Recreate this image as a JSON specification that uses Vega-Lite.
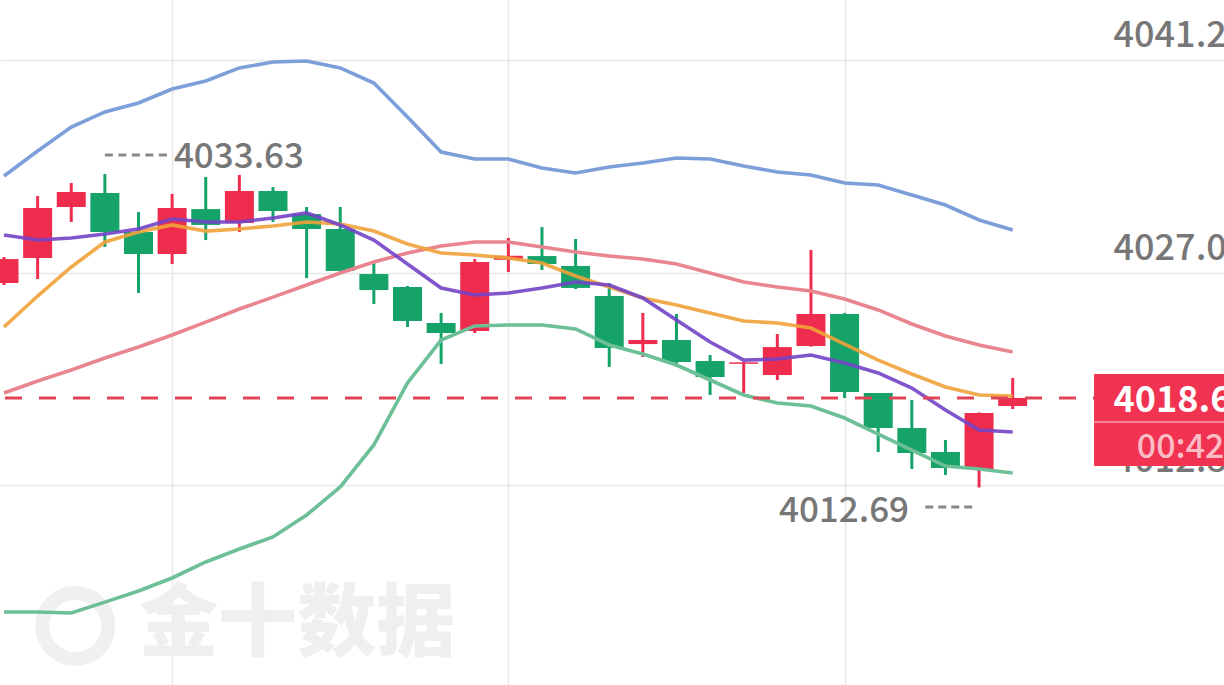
{
  "$schema": "https://vega.github.io/schema/vega-lite/v6.json",
  "width": 1224,
  "height": 685,
  "autosize": {"type": "none"},
  "padding": 0,
  "background": "#ffffff",
  "config": {
    "view": {"stroke": null},
    "axis": {"domain": false, "ticks": false, "labels": false, "grid": true, "gridColor": "#e8e8e8", "gridWidth": 1.5}
  },
  "datasets": {
    "k": [
      {"i": 0, "open": 4026.35, "high": 4028.09, "low": 4026.22, "close": 4027.95, "upper": 4033.50, "mid": 4019.00, "lower": 4004.37, "ma5": 4029.56, "ma10": 4023.41},
      {"i": 1, "open": 4028.02, "high": 4032.16, "low": 4026.62, "close": 4031.36, "upper": 4035.17, "mid": 4019.80, "lower": 4004.37, "ma5": 4029.22, "ma10": 4025.48},
      {"i": 2, "open": 4031.43, "high": 4033.03, "low": 4030.43, "close": 4032.43, "upper": 4036.77, "mid": 4020.54, "lower": 4004.30, "ma5": 4029.36, "ma10": 4027.42},
      {"i": 3, "open": 4032.36, "high": 4033.63, "low": 4028.76, "close": 4029.76, "upper": 4037.78, "mid": 4021.34, "lower": 4005.03, "ma5": 4029.62, "ma10": 4029.09},
      {"i": 4, "open": 4029.76, "high": 4031.09, "low": 4025.68, "close": 4028.29, "upper": 4038.38, "mid": 4022.07, "lower": 4005.77, "ma5": 4029.96, "ma10": 4029.76},
      {"i": 5, "open": 4028.29, "high": 4032.30, "low": 4027.62, "close": 4031.36, "upper": 4039.31, "mid": 4022.88, "lower": 4006.64, "ma5": 4030.63, "ma10": 4030.23},
      {"i": 6, "open": 4031.29, "high": 4033.43, "low": 4029.22, "close": 4030.23, "upper": 4039.85, "mid": 4023.74, "lower": 4007.71, "ma5": 4030.43, "ma10": 4029.82},
      {"i": 7, "open": 4030.36, "high": 4033.57, "low": 4029.76, "close": 4032.50, "upper": 4040.72, "mid": 4024.61, "lower": 4008.58, "ma5": 4030.43, "ma10": 4029.96},
      {"i": 8, "open": 4032.50, "high": 4032.76, "low": 4030.43, "close": 4031.16, "upper": 4041.12, "mid": 4025.41, "lower": 4009.38, "ma5": 4030.69, "ma10": 4030.16},
      {"i": 9, "open": 4030.96, "high": 4031.43, "low": 4026.68, "close": 4029.96, "upper": 4041.18, "mid": 4026.22, "lower": 4010.85, "ma5": 4031.03, "ma10": 4030.43},
      {"i": 10, "open": 4029.96, "high": 4031.43, "low": 4027.08, "close": 4027.15, "upper": 4040.72, "mid": 4027.02, "lower": 4012.72, "ma5": 4030.23, "ma10": 4030.29},
      {"i": 11, "open": 4026.95, "high": 4027.75, "low": 4024.95, "close": 4025.88, "upper": 4039.71, "mid": 4027.75, "lower": 4015.53, "ma5": 4029.22, "ma10": 4029.82},
      {"i": 12, "open": 4026.08, "high": 4026.15, "low": 4023.41, "close": 4023.81, "upper": 4037.44, "mid": 4028.36, "lower": 4019.67, "ma5": 4027.62, "ma10": 4028.96},
      {"i": 13, "open": 4023.68, "high": 4024.35, "low": 4020.94, "close": 4023.01, "upper": 4035.10, "mid": 4028.82, "lower": 4022.54, "ma5": 4026.02, "ma10": 4028.36},
      {"i": 14, "open": 4023.14, "high": 4027.95, "low": 4023.01, "close": 4027.75, "upper": 4034.64, "mid": 4029.09, "lower": 4023.48, "ma5": 4025.55, "ma10": 4028.22},
      {"i": 15, "open": 4027.90, "high": 4029.36, "low": 4027.08, "close": 4028.17, "upper": 4034.64, "mid": 4029.09, "lower": 4023.54, "ma5": 4025.68, "ma10": 4028.02},
      {"i": 16, "open": 4028.15, "high": 4030.09, "low": 4027.22, "close": 4027.62, "upper": 4034.03, "mid": 4028.76, "lower": 4023.54, "ma5": 4026.02, "ma10": 4027.69},
      {"i": 17, "open": 4027.49, "high": 4029.29, "low": 4025.95, "close": 4026.02, "upper": 4033.70, "mid": 4028.42, "lower": 4023.28, "ma5": 4026.42, "ma10": 4026.82},
      {"i": 18, "open": 4025.48, "high": 4026.35, "low": 4020.74, "close": 4022.01, "upper": 4034.10, "mid": 4028.15, "lower": 4022.21, "ma5": 4026.22, "ma10": 4026.08},
      {"i": 19, "open": 4022.27, "high": 4024.35, "low": 4021.41, "close": 4022.54, "upper": 4034.37, "mid": 4027.95, "lower": 4021.61, "ma5": 4025.35, "ma10": 4025.35},
      {"i": 20, "open": 4022.54, "high": 4024.28, "low": 4020.74, "close": 4021.07, "upper": 4034.70, "mid": 4027.62, "lower": 4020.87, "ma5": 4023.88, "ma10": 4024.88},
      {"i": 21, "open": 4021.14, "high": 4021.54, "low": 4018.87, "close": 4020.07, "upper": 4034.64, "mid": 4027.02, "lower": 4019.87, "ma5": 4022.41, "ma10": 4024.35},
      {"i": 22, "open": 4020.95, "high": 4021.07, "low": 4019.00, "close": 4021.05, "upper": 4034.17, "mid": 4026.42, "lower": 4018.87, "ma5": 4021.20, "ma10": 4023.81},
      {"i": 23, "open": 4020.20, "high": 4022.94, "low": 4019.87, "close": 4022.07, "upper": 4033.77, "mid": 4026.08, "lower": 4018.33, "ma5": 4021.27, "ma10": 4023.68},
      {"i": 24, "open": 4022.14, "high": 4028.56, "low": 4022.10, "close": 4024.28, "upper": 4033.57, "mid": 4025.82, "lower": 4018.13, "ma5": 4021.54, "ma10": 4023.34},
      {"i": 25, "open": 4024.28, "high": 4024.35, "low": 4018.67, "close": 4019.07, "upper": 4033.03, "mid": 4025.28, "lower": 4017.33, "ma5": 4021.00, "ma10": 4022.27},
      {"i": 26, "open": 4019.00, "high": 4019.00, "low": 4015.06, "close": 4016.66, "upper": 4032.90, "mid": 4024.55, "lower": 4016.26, "ma5": 4020.34, "ma10": 4021.20},
      {"i": 27, "open": 4016.66, "high": 4018.53, "low": 4013.92, "close": 4014.99, "upper": 4032.23, "mid": 4023.61, "lower": 4015.19, "ma5": 4019.33, "ma10": 4020.27},
      {"i": 28, "open": 4015.06, "high": 4015.86, "low": 4013.52, "close": 4013.99, "upper": 4031.56, "mid": 4022.81, "lower": 4014.12, "ma5": 4017.86, "ma10": 4019.40},
      {"i": 29, "open": 4013.92, "high": 4017.70, "low": 4012.69, "close": 4017.66, "upper": 4030.56, "mid": 4022.21, "lower": 4013.92, "ma5": 4016.53, "ma10": 4018.87},
      {"i": 30, "open": 4018.13, "high": 4020.00, "low": 4017.93, "close": 4018.67, "upper": 4029.89, "mid": 4021.74, "lower": 4013.65, "ma5": 4016.39, "ma10": 4018.80}
    ],
    "one": [{}]
  },
  "layer": [
    {
      "data": {"name": "one"},
      "mark": {"type": "point", "shape": "circle", "filled": false, "size": 4356, "strokeWidth": 14, "stroke": "#f0f0f0", "opacity": 1},
      "encoding": {
        "x": {"datum": 2.12, "type": "quantitative", "scale": {"domain": [0.0295, 36.136], "nice": false, "zero": false}, "axis": {"values": [5, 15, 25], "title": null}},
        "y": {"datum": 4003.43, "type": "quantitative", "scale": {"domain": [3999.49, 4045.26], "nice": false, "zero": false}, "axis": {"values": [4012.85, 4027.05, 4041.25], "title": null}}
      }
    },
    {
      "data": {"name": "one"},
      "mark": {"type": "text", "text": "金十数据", "font": "Noto Sans CJK SC", "fontWeight": 900, "fontSize": 79, "color": "#efefef", "align": "center", "baseline": "middle"},
      "encoding": {
        "x": {"datum": 8.72, "type": "quantitative", "scale": {"domain": [0.0295, 36.136], "nice": false, "zero": false}},
        "y": {"datum": 4003.43, "type": "quantitative", "scale": {"domain": [3999.49, 4045.26], "nice": false, "zero": false}}
      }
    },
    {
      "data": {"name": "k"},
      "mark": {"type": "rule", "strokeWidth": 3, "clip": true},
      "encoding": {
        "x": {"field": "i", "type": "quantitative", "title": null, "scale": {"domain": [0.0295, 36.136], "nice": false, "zero": false}},
        "y": {"field": "low", "type": "quantitative", "title": null, "scale": {"domain": [3999.49, 4045.26], "nice": false, "zero": false}},
        "y2": {"field": "high"},
        "color": {"condition": {"test": "datum.close >= datum.open", "value": "#ee2c4d"}, "value": "#16a36a"}
      }
    },
    {
      "data": {"name": "k"},
      "mark": {"type": "bar", "width": 29, "clip": true},
      "encoding": {
        "x": {"field": "i", "type": "quantitative", "title": null, "scale": {"domain": [0.0295, 36.136], "nice": false, "zero": false}},
        "y": {"field": "open", "type": "quantitative", "title": null, "scale": {"domain": [3999.49, 4045.26], "nice": false, "zero": false}},
        "y2": {"field": "close"},
        "color": {"condition": {"test": "datum.close >= datum.open", "value": "#ee2c4d"}, "value": "#16a36a"}
      }
    },
    {
      "data": {"name": "k"},
      "mark": {"type": "line", "color": "#7c9fd9", "strokeWidth": 3.6, "clip": true},
      "encoding": {
        "x": {"field": "i", "type": "quantitative", "title": null, "scale": {"domain": [0.0295, 36.136], "nice": false, "zero": false}},
        "y": {"field": "upper", "type": "quantitative", "title": null, "scale": {"domain": [3999.49, 4045.26], "nice": false, "zero": false}}
      }
    },
    {
      "data": {"name": "k"},
      "mark": {"type": "line", "color": "#e8858f", "strokeWidth": 3.6, "clip": true},
      "encoding": {
        "x": {"field": "i", "type": "quantitative", "title": null, "scale": {"domain": [0.0295, 36.136], "nice": false, "zero": false}},
        "y": {"field": "mid", "type": "quantitative", "title": null, "scale": {"domain": [3999.49, 4045.26], "nice": false, "zero": false}}
      }
    },
    {
      "data": {"name": "k"},
      "mark": {"type": "line", "color": "#6cbf97", "strokeWidth": 3.6, "clip": true},
      "encoding": {
        "x": {"field": "i", "type": "quantitative", "title": null, "scale": {"domain": [0.0295, 36.136], "nice": false, "zero": false}},
        "y": {"field": "lower", "type": "quantitative", "title": null, "scale": {"domain": [3999.49, 4045.26], "nice": false, "zero": false}}
      }
    },
    {
      "data": {"name": "k"},
      "mark": {"type": "line", "color": "#f0a23a", "strokeWidth": 3.6, "opacity": 0.9, "clip": true},
      "encoding": {
        "x": {"field": "i", "type": "quantitative", "title": null, "scale": {"domain": [0.0295, 36.136], "nice": false, "zero": false}},
        "y": {"field": "ma10", "type": "quantitative", "title": null, "scale": {"domain": [3999.49, 4045.26], "nice": false, "zero": false}}
      }
    },
    {
      "data": {"name": "k"},
      "mark": {"type": "line", "color": "#7344c8", "strokeWidth": 3.6, "opacity": 0.9, "clip": true},
      "encoding": {
        "x": {"field": "i", "type": "quantitative", "title": null, "scale": {"domain": [0.0295, 36.136], "nice": false, "zero": false}},
        "y": {"field": "ma5", "type": "quantitative", "title": null, "scale": {"domain": [3999.49, 4045.26], "nice": false, "zero": false}}
      }
    },
    {
      "data": {"name": "one"},
      "mark": {"type": "rule", "color": "#e14457", "strokeWidth": 3, "strokeDash": [17, 17]},
      "encoding": {
        "x": {"datum": 0.0295, "type": "quantitative", "scale": {"domain": [0.0295, 36.136], "nice": false, "zero": false}},
        "x2": {"datum": 32.6},
        "y": {"datum": 4018.67, "type": "quantitative", "scale": {"domain": [3999.49, 4045.26], "nice": false, "zero": false}}
      }
    },
    {
      "data": {"values": [{"i": 3, "price": 4033.63, "label": "4033.63"}]},
      "mark": {"type": "text", "font": "Noto Sans CJK SC", "fontWeight": 500, "fontSize": 35, "color": "#777777", "align": "left", "baseline": "alphabetic", "dx": 69, "dy": -6},
      "encoding": {
        "x": {"field": "i", "type": "quantitative", "title": null, "scale": {"domain": [0.0295, 36.136], "nice": false, "zero": false}},
        "y": {"field": "price", "type": "quantitative", "title": null, "scale": {"domain": [3999.49, 4045.26], "nice": false, "zero": false}},
        "text": {"field": "label"}
      }
    },
    {
      "data": {"values": [{"i": 29, "price": 4012.69, "label": "4012.69"}]},
      "mark": {"type": "text", "font": "Noto Sans CJK SC", "fontWeight": 500, "fontSize": 35, "color": "#777777", "align": "right", "baseline": "alphabetic", "dx": -70, "dy": 35},
      "encoding": {
        "x": {"field": "i", "type": "quantitative", "title": null, "scale": {"domain": [0.0295, 36.136], "nice": false, "zero": false}},
        "y": {"field": "price", "type": "quantitative", "title": null, "scale": {"domain": [3999.49, 4045.26], "nice": false, "zero": false}},
        "text": {"field": "label"}
      }
    },
    {
      "data": {"name": "one"},
      "mark": {"type": "rule", "color": "#888888", "strokeWidth": 3, "strokeDash": [8, 5.5]},
      "encoding": {
        "x": {"datum": 3.0, "type": "quantitative", "scale": {"domain": [0.0295, 36.136], "nice": false, "zero": false}},
        "x2": {"datum": 4.85},
        "y": {"datum": 4034.90, "type": "quantitative", "scale": {"domain": [3999.49, 4045.26], "nice": false, "zero": false}}
      }
    },
    {
      "data": {"name": "one"},
      "mark": {"type": "rule", "color": "#888888", "strokeWidth": 3, "strokeDash": [8, 5]},
      "encoding": {
        "x": {"datum": 27.4, "type": "quantitative", "scale": {"domain": [0.0295, 36.136], "nice": false, "zero": false}},
        "x2": {"datum": 28.8},
        "y": {"datum": 4011.38, "type": "quantitative", "scale": {"domain": [3999.49, 4045.26], "nice": false, "zero": false}}
      }
    },
    {
      "data": {"values": [{"price": 4041.25, "label": "4041.25"}, {"price": 4027.05, "label": "4027.05"}, {"price": 4012.85, "label": "4012.85"}]},
      "mark": {"type": "text", "font": "Noto Sans CJK SC", "fontWeight": 500, "fontSize": 36, "color": "#777777", "align": "left", "baseline": "alphabetic", "dy": -13},
      "encoding": {
        "x": {"datum": 33.0, "type": "quantitative", "scale": {"domain": [0.0295, 36.136], "nice": false, "zero": false}},
        "y": {"field": "price", "type": "quantitative", "title": null, "scale": {"domain": [3999.49, 4045.26], "nice": false, "zero": false}},
        "text": {"field": "label"}
      }
    },
    {
      "data": {"name": "one"},
      "mark": {"type": "rect", "color": "#f03350", "clip": true},
      "encoding": {
        "x": {"datum": 32.42, "type": "quantitative", "scale": {"domain": [0.0295, 36.136], "nice": false, "zero": false}},
        "x2": {"datum": 37},
        "y": {"datum": 4020.27, "type": "quantitative", "scale": {"domain": [3999.49, 4045.26], "nice": false, "zero": false}},
        "y2": {"datum": 4014.12}
      }
    },
    {
      "data": {"name": "one"},
      "mark": {"type": "rule", "color": "#f7a0ad", "strokeWidth": 1.5, "clip": true},
      "encoding": {
        "x": {"datum": 32.42, "type": "quantitative", "scale": {"domain": [0.0295, 36.136], "nice": false, "zero": false}},
        "x2": {"datum": 37},
        "y": {"datum": 4017.06, "type": "quantitative", "scale": {"domain": [3999.49, 4045.26], "nice": false, "zero": false}}
      }
    },
    {
      "data": {"values": [{"price": 4018.67, "label": "4018.67"}]},
      "mark": {"type": "text", "font": "Noto Sans CJK SC", "fontSize": 36, "fontWeight": "bold", "color": "#ffffff", "align": "left", "baseline": "alphabetic", "dy": 14},
      "encoding": {
        "x": {"datum": 33.0, "type": "quantitative", "scale": {"domain": [0.0295, 36.136], "nice": false, "zero": false}},
        "y": {"field": "price", "type": "quantitative", "title": null, "scale": {"domain": [3999.49, 4045.26], "nice": false, "zero": false}},
        "text": {"field": "label"}
      }
    },
    {
      "data": {"values": [{"price": 4018.67, "label": "00:42"}]},
      "mark": {"type": "text", "font": "Noto Sans CJK SC", "fontWeight": 500, "fontSize": 34, "color": "#fbbcc6", "align": "left", "baseline": "alphabetic", "dy": 60},
      "encoding": {
        "x": {"datum": 33.69, "type": "quantitative", "scale": {"domain": [0.0295, 36.136], "nice": false, "zero": false}},
        "y": {"field": "price", "type": "quantitative", "title": null, "scale": {"domain": [3999.49, 4045.26], "nice": false, "zero": false}},
        "text": {"field": "label"}
      }
    }
  ]
}
